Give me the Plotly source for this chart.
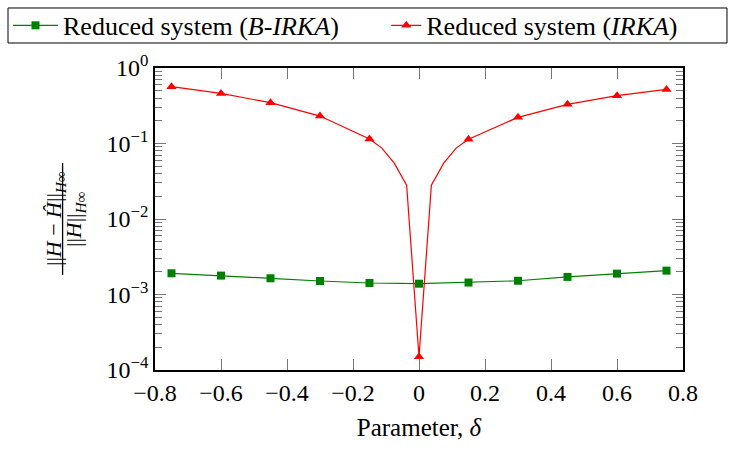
import plotly.graph_objects as go

# ---- data ----
x_birka = [-0.75, -0.6, -0.45, -0.3, -0.15, 0.0, 0.15, 0.3, 0.45, 0.6, 0.75]
y_birka = [1.91e-3, 1.78e-3, 1.64e-3, 1.51e-3, 1.42e-3, 1.39e-3, 1.44e-3, 1.52e-3, 1.71e-3, 1.89e-3, 2.07e-3]

x_irka = [-0.75, -0.6, -0.45, -0.3, -0.15, -0.1125, -0.075, -0.0375, 0.0,
          0.0375, 0.075, 0.1125, 0.15, 0.3, 0.45, 0.6, 0.75]
y_irka = [0.566, 0.46, 0.347, 0.231, 0.115, 0.087, 0.055, 0.028, 1.5e-4,
          0.028, 0.055, 0.087, 0.114, 0.222, 0.33, 0.43, 0.52]
irka_marked = [1, 1, 1, 1, 1, 0, 0, 0, 1, 0, 0, 0, 1, 1, 1, 1, 1]

x_ticks = [-0.8, -0.6, -0.4, -0.2, 0, 0.2, 0.4, 0.6, 0.8]
x_ticktext = ["−0.8", "−0.6", "−0.4", "−0.2", "0", "0.2", "0.4", "0.6", "0.8"]
y_ticks = [1e-4, 1e-3, 1e-2, 1e-1, 1]
y_ticktext = ["10<sup>−4</sup>", "10<sup>−3</sup>", "10<sup>−2</sup>", "10<sup>−1</sup>", "10<sup>0</sup>"]

FONT = "Liberation Serif"
GREEN = "rgb(0,128,0)"
RED = "rgb(255,0,0)"

fig = go.Figure()
fig.add_trace(go.Scatter(
    x=x_birka, y=y_birka, mode="lines+markers",
    name="Reduced system (<i>B-IRKA</i>)", legend="legend",
    line=dict(color=GREEN, width=1.2),
    marker=dict(symbol="square", size=8, color=GREEN),
))
fig.add_trace(go.Scatter(
    x=x_irka, y=y_irka, mode="lines+markers",
    name="Reduced system (<i>IRKA</i>)", legend="legend2",
    line=dict(color=RED, width=1.2),
    marker=dict(symbol="triangle-up", size=9,
                color=[RED if m else "rgba(0,0,0,0)" for m in irka_marked]),
))

tickstyle = dict(ticks="inside", ticklen=11, tickwidth=1, tickcolor="#777",
                 showline=True, linecolor="black", linewidth=1.5, mirror="ticks",
                 showgrid=False, zeroline=False,
                 tickfont=dict(family=FONT, size=24, color="black"))

fig.update_xaxes(range=[-0.8, 0.8], tickvals=x_ticks, ticktext=x_ticktext,
                 title=dict(text="Parameter, <i>δ</i>", font=dict(family=FONT, size=25, color="black"), standoff=14),
                 **tickstyle)
fig.update_yaxes(type="log", range=[-4, 0], tickvals=y_ticks, ticktext=y_ticktext,
                 minor=dict(ticks="inside", ticklen=7, tickwidth=1, tickcolor="#777",
                            tickvals=[m * 10 ** e for e in range(-4, 0) for m in range(2, 10)]),
                 **tickstyle)

# y-axis title as a fraction
fig.add_annotation(xref="paper", yref="paper", x=0, y=0.5, xshift=-116,
                   text="||<i>H</i> − <i>Ĥ</i>||<sub><i>H</i>∞</sub>",
                   textangle=-90, showarrow=False, font=dict(family=FONT, size=22, color="black"))
fig.add_annotation(xref="paper", yref="paper", x=0, y=0.5, xshift=-96,
                   text="||<i>H</i>||<sub><i>H</i>∞</sub>",
                   textangle=-90, showarrow=False, font=dict(family=FONT, size=22, color="black"))
fig.add_shape(type="line", xref="paper", yref="paper", x0=-0.175, x1=-0.175, y0=0.315, y1=0.685,
              line=dict(color="black", width=1.3))

# frame around the two legend entries
fig.add_shape(type="rect", xref="paper", yref="paper", x0=-0.2784, x1=1.0833, y0=1.0828, y1=1.1987,
              line=dict(color="black", width=1), fillcolor="rgba(0,0,0,0)")

legend_common = dict(orientation="h", yref="paper", y=1.141, yanchor="middle",
                     borderwidth=0, bgcolor="rgba(0,0,0,0)",
                     font=dict(family=FONT, size=26, color="black"))

fig.update_layout(
    width=735, height=450,
    margin=dict(l=155, r=52, t=68, b=80, autoexpand=False),
    paper_bgcolor="white", plot_bgcolor="white",
    font=dict(family=FONT, size=20, color="black"),
    showlegend=True,
    legend=dict(xref="paper", x=-0.2784, xanchor="left", itemwidth=45, **legend_common),
    legend2=dict(xref="paper", x=0.438, xanchor="left", itemwidth=30, **legend_common),
)

fig.write_html("out.html")
